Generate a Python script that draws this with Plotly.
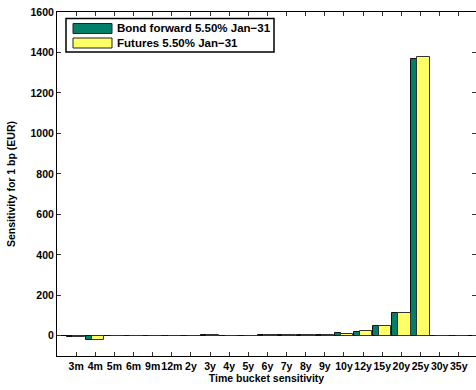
import plotly.graph_objects as go

categories = ["3m", "4m", "5m", "6m", "9m", "12m", "2y", "3y", "4y", "5y", "6y",
              "7y", "8y", "9y", "10y", "12y", "15y", "20y", "25y", "30y", "35y"]
bond_forward = [-8, -22, 0.5, 0.3, 0.5, 0.5, 1, 1.5, 1, 1, 1.5,
                1.5, 3, 6, 12, 21, 49, 112, 1366, 1, 0.5]
futures = [-8, -22, 0.5, 0.3, 0.5, 0.5, 1, 1.5, 1, 1, 1.5,
           1.5, 3, 6, 10, 23, 48, 113, 1378, 1, 0.5]
series_names = ["Bond forward 5.50% Jan\u221231", "Futures 5.50% Jan\u221231"]
colors = ["#008066", "#FFFF66"]
y_ticks = [0, 200, 400, 600, 800, 1000, 1200, 1400, 1600]

W, H = 476, 390
L, R, T, B = 57, 0, 12, 34
PW, PH = W - L - R, H - T - B

FONT = "Liberation Sans, Arial, Helvetica, sans-serif"

x_idx = list(range(len(categories)))

fig = go.Figure()
fig.add_trace(go.Bar(x=x_idx, y=bond_forward, name=series_names[0],
                     marker=dict(color=colors[0], line=dict(color="#111", width=1)),
                     width=0.31, offset=-0.48, showlegend=False))
fig.add_trace(go.Bar(x=x_idx, y=futures, name=series_names[1],
                     marker=dict(color=colors[1], line=dict(color="#333", width=1)),
                     width=0.65, offset=-0.17, showlegend=False))

def px(x):
    return (x - L) / PW

def py(y):
    return (H - B - y) / PH

shapes = []
annotations = []
# legend box
shapes.append(dict(type="rect", xref="paper", yref="paper",
                   x0=px(66), x1=px(274), y0=py(52), y1=py(18.5),
                   line=dict(color="black", width=1.5), fillcolor="white", layer="above"))
sw = [(23.5, 33.5), (38, 48)]
for i in range(2):
    shapes.append(dict(type="rect", xref="paper", yref="paper",
                       x0=px(73), x1=px(112), y0=py(sw[i][1]), y1=py(sw[i][0]),
                       line=dict(color="#222", width=1), fillcolor=colors[i], layer="above"))
    annotations.append(dict(xref="paper", yref="paper", x=px(115), y=py((sw[i][0] + sw[i][1]) / 2),
                            text="<b>" + series_names[i] + "</b>", showarrow=False,
                            xanchor="left", yanchor="middle",
                            font=dict(family=FONT, size=11.5, color="black")))

fig.update_layout(
    width=W, height=H,
    margin=dict(l=L, r=R, t=T, b=B, pad=0),
    paper_bgcolor="white", plot_bgcolor="white",
    barmode="overlay", bargap=0,
    font=dict(family=FONT, size=10, color="black"),
    shapes=shapes, annotations=annotations,
    xaxis=dict(range=[-1, 20.9], tickmode="array", tickvals=x_idx,
               ticktext=["<b>" + c + "</b>" for c in categories],
               ticks="inside", ticklen=4, tickcolor="#333", tickwidth=1,
               showline=True, linecolor="black", linewidth=1, mirror="ticks",
               showgrid=False, zeroline=False, tickangle=0,
               tickfont=dict(size=10.5),
               title=dict(text="<b>Time bucket sensitivity</b>", standoff=4,
                          font=dict(size=10.5))),
    yaxis=dict(range=[-100, 1600], tickmode="array", tickvals=y_ticks,
               ticktext=["<b>%d</b>" % v for v in y_ticks],
               ticks="inside", ticklen=4, tickcolor="#333", tickwidth=1,
               showline=True, linecolor="black", linewidth=1, mirror="ticks",
               showgrid=False, zeroline=True, zerolinecolor="black", zerolinewidth=1,
               tickfont=dict(size=10.5),
               title=dict(text="<b>Sensitivity for 1 bp (EUR)</b>", standoff=12,
                          font=dict(size=10.5))),
)

fig.write_html("out.html")
